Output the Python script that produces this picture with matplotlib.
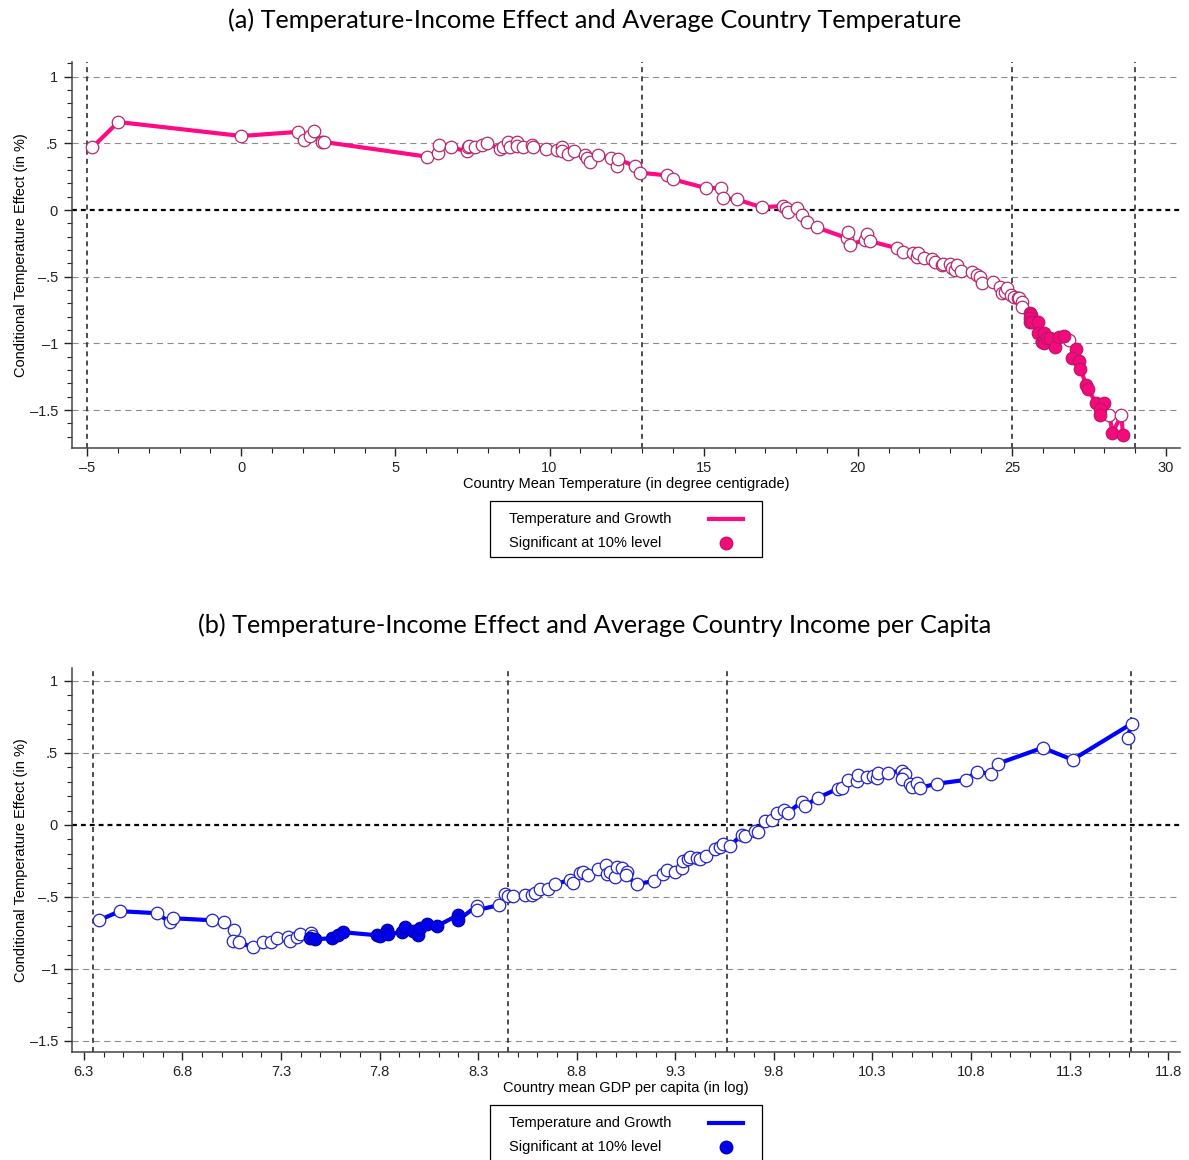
import matplotlib
matplotlib.use('Agg')
import matplotlib.pyplot as plt
from matplotlib.ticker import MultipleLocator
from matplotlib.lines import Line2D
from matplotlib.patches import Rectangle

plt.rcParams['font.family'] = ['Liberation Sans', 'DejaVu Sans']

# panel (a): effect vs country mean temperature
temp_x = [-4.83, -3.99, 0.00, 1.85, 2.04, 2.24, 2.37, 2.62, 2.69,
          6.03, 6.38, 6.42, 6.80, 7.33, 7.36, 7.40, 7.58, 7.80, 7.97,
          8.39, 8.50, 8.65, 8.72, 8.94, 8.96, 9.14, 9.43, 9.46, 9.88,
          10.24, 10.40, 10.42, 10.60, 10.78, 11.15, 11.21, 11.31, 11.57, 11.99,
          12.18, 12.22, 12.77, 12.93, 13.80, 14.00, 15.07, 15.55, 15.62, 16.07,
          16.88, 17.56, 17.66, 17.72, 18.02, 18.18, 18.34, 18.66, 19.64, 19.67, 19.73,
          20.22, 20.29, 20.38, 21.26, 21.45, 21.78, 21.91, 21.94, 22.16, 22.42, 22.49,
          22.72, 22.75, 22.98, 23.04, 23.14, 23.23, 23.36, 23.69, 23.85, 23.95, 24.04,
          24.37, 24.60, 24.69, 24.76, 24.85, 24.98, 25.08, 25.18, 25.24, 25.31, 25.34,
          25.57, 25.63, 25.60, 25.57, 25.66, 25.83, 25.83, 25.96, 25.96, 26.05, 26.05,
          26.12, 26.22, 26.38, 26.54, 26.70,
          26.86,
          27.09, 26.96, 27.19, 27.22, 27.41, 27.45, 27.74, 28.00, 27.84, 27.84,
          28.16, 28.26, 28.55, 28.60]
temp_eff = [0.47, 0.66, 0.555, 0.586, 0.526, 0.556, 0.594, 0.51, 0.51,
            0.40, 0.43, 0.49, 0.47, 0.44, 0.475, 0.48, 0.47, 0.49, 0.50,
            0.46, 0.47, 0.51, 0.47, 0.51, 0.48, 0.47, 0.49, 0.47, 0.46,
            0.45, 0.47, 0.44, 0.42, 0.44, 0.41, 0.39, 0.36, 0.41, 0.39,
            0.33, 0.38, 0.33, 0.28, 0.26, 0.23, 0.165, 0.165, 0.09, 0.08,
            0.02, 0.03, 0.015, -0.015, 0.015, -0.04, -0.09, -0.13, -0.21, -0.165, -0.26,
            -0.225, -0.18, -0.233, -0.286, -0.316, -0.32, -0.35, -0.32, -0.36, -0.37, -0.39,
            -0.41, -0.406, -0.406, -0.436, -0.45, -0.41, -0.46, -0.466, -0.49, -0.50, -0.55,
            -0.54, -0.58, -0.62, -0.617, -0.586, -0.64, -0.654, -0.66, -0.66, -0.69, -0.73,
            -0.774, -0.79, -0.81, -0.84, -0.84, -0.84, -0.925, -0.98, -0.99, -1.0, -0.925,
            -0.96, -0.96, -1.03, -0.955, -0.947,
            -0.977,
            -1.04, -1.11, -1.13, -1.19, -1.316, -1.34, -1.45, -1.45, -1.49, -1.54,
            -1.54, -1.67, -1.54, -1.69]
temp_sig = [0] * 93 + [1] * 16 + [0] + [1] * 10 + [0, 1, 0, 1]
temp_vlines = [-5, 13, 25, 29]

# panel (b): effect vs country mean log GDP per capita
gdp_x = [6.376, 6.483, 6.670, 6.736, 6.751, 6.949, 7.010, 7.061, 7.056, 7.086,
         7.157, 7.208, 7.248, 7.279, 7.334, 7.345, 7.380, 7.395, 7.451, 7.456,
         7.446, 7.471, 7.558, 7.588, 7.613, 7.786, 7.801, 7.837, 7.842, 7.913,
         7.928, 7.968, 7.994, 8.004, 8.039, 8.090, 8.197, 8.197,
         8.293, 8.293, 8.404, 8.435, 8.450, 8.475, 8.536, 8.572, 8.587, 8.612,
         8.653, 8.688, 8.764, 8.780, 8.815, 8.830, 8.856, 8.906, 8.947, 8.952,
         8.967, 8.993, 9.003, 9.028, 9.054, 9.048, 9.104, 9.190, 9.236, 9.256,
         9.297, 9.332, 9.337, 9.363, 9.373, 9.409, 9.424, 9.454, 9.500, 9.525,
         9.540, 9.576, 9.637, 9.652, 9.703, 9.718, 9.753, 9.789, 9.814, 9.850,
         9.870, 9.941, 9.956, 10.022, 10.124, 10.144, 10.174, 10.220, 10.225, 10.271,
         10.301, 10.321, 10.326, 10.377, 10.448, 10.453, 10.463, 10.448, 10.489, 10.499,
         10.524, 10.539, 10.626, 10.773, 10.828, 10.899, 10.935, 11.163, 11.315, 11.614,
         11.594]
gdp_eff = [-0.662, -0.599, -0.613, -0.675, -0.648, -0.662, -0.675, -0.731, -0.808, -0.815,
           -0.850, -0.815, -0.815, -0.787, -0.780, -0.808, -0.780, -0.759, -0.752, -0.773,
           -0.787, -0.794, -0.787, -0.766, -0.745, -0.766, -0.773, -0.731, -0.759, -0.745,
           -0.710, -0.738, -0.766, -0.717, -0.689, -0.703, -0.627, -0.662,
           -0.564, -0.592, -0.557, -0.480, -0.494, -0.494, -0.487, -0.487, -0.474, -0.446,
           -0.446, -0.411, -0.383, -0.404, -0.334, -0.327, -0.348, -0.306, -0.279, -0.341,
           -0.327, -0.362, -0.292, -0.299, -0.327, -0.348, -0.411, -0.390, -0.341, -0.313,
           -0.327, -0.299, -0.251, -0.237, -0.223, -0.230, -0.237, -0.216, -0.167, -0.153,
           -0.132, -0.146, -0.070, -0.077, -0.042, -0.049, 0.028, 0.035, 0.084, 0.104,
           0.084, 0.160, 0.132, 0.188, 0.251, 0.258, 0.313, 0.306, 0.348, 0.334,
           0.341, 0.327, 0.362, 0.362, 0.376, 0.341, 0.355, 0.320, 0.286, 0.265,
           0.292, 0.258, 0.286, 0.313, 0.369, 0.355, 0.425, 0.536, 0.453, 0.703,
           0.606]
gdp_sig = [0] * 20 + [1] * 18 + [0] * 83
gdp_vlines = [6.345, 8.45, 9.56, 11.61]

yticks = [1, 0.5, 0, -0.5, -1, -1.5]
ylabels = ['1', '.5', '0', '\u2013.5', '\u20131', '\u20131.5']
legend_labels = ['Temperature and Growth', 'Significant at 10% level']

W, H = 1189, 1160


def fmt_num(v):
    s = ('%g' % v)
    return s.replace('-', '\u2013')


def draw_panel(ax, xs, ys, sig, line_col, open_edge, fill_col, fill_edge,
               vlines, xticks, minor, xlim, ylim, xlabel):
    for y in yticks:
        if y == 0:
            ax.axhline(0, color='black', lw=1.6, ls=(0, (2.2, 1.8)), zorder=1)
        else:
            ax.axhline(y, color='#8c8c8c', lw=0.8, ls=(0, (5.5, 4)), zorder=1)
    for v in vlines:
        ax.axvline(v, color='#303030', lw=1.2, ls=(0, (3, 2.5)), zorder=1)

    ax.plot(xs, ys, color=line_col, lw=3.0, zorder=2, solid_joinstyle='round')
    ox = [x for x, s in zip(xs, sig) if s == 0]
    oy = [y for y, s in zip(ys, sig) if s == 0]
    fx = [x for x, s in zip(xs, sig) if s == 1]
    fy = [y for y, s in zip(ys, sig) if s == 1]
    ax.plot(ox, oy, 'o', ms=9, mfc='white', mec=open_edge, mew=0.9, ls='none', zorder=3)
    ax.plot(fx, fy, 'o', ms=9, mfc=fill_col, mec=fill_edge, mew=0.9, ls='none', zorder=4)

    ax.set_xlim(xlim)
    ax.set_ylim(ylim)
    ax.set_xticks(xticks)
    ax.set_xticklabels([fmt_num(t) for t in xticks])
    ax.xaxis.set_minor_locator(MultipleLocator(minor))
    ax.set_yticks(yticks)
    ax.set_yticklabels(ylabels)
    ax.yaxis.set_minor_locator(MultipleLocator(0.1))
    ax.tick_params(which='major', direction='out', length=6, width=1.0,
                   labelsize=10.5, colors='#222222')
    ax.tick_params(which='minor', direction='out', length=3.5, width=0.8, colors='#222222')
    ax.tick_params(axis='y', pad=4)
    ax.tick_params(axis='x', pad=3)
    for sp in ['top', 'right']:
        ax.spines[sp].set_visible(False)
    for sp in ['left', 'bottom']:
        ax.spines[sp].set_linewidth(1.1)
        ax.spines[sp].set_color('#444444')
    ax.set_xlabel(xlabel, fontsize=10.5, labelpad=2)
    ax.set_ylabel('Conditional Temperature Effect (in %)', fontsize=10.5, labelpad=1)


def add_legend(fig, top_px, line_col, fill_col, fill_edge):
    # box drawn by hand so labels sit left and keys sit right, as in the Stata legend
    x0, x1 = 490, 762
    y1 = top_px + 56
    fig.patches.append(Rectangle((x0 / W, 1 - y1 / H), (x1 - x0) / W, 56 / H,
                                 transform=fig.transFigure, facecolor='white',
                                 edgecolor='black', lw=0.9, zorder=5))
    rows = [top_px + 18, top_px + 42]
    for lab, yy in zip(legend_labels, rows):
        fig.text(509 / W, 1 - yy / H, lab, fontsize=10.5, ha='left', va='center', zorder=6)
    fig.lines.append(Line2D([709 / W, 743 / W], [1 - rows[0] / H] * 2, color=line_col,
                            lw=3.0, transform=fig.transFigure, zorder=6))
    fig.lines.append(Line2D([726 / W], [1 - rows[1] / H], marker='o', ms=9, ls='none',
                            mfc=fill_col, mec=fill_edge, transform=fig.transFigure, zorder=6))


def main():
    fig = plt.figure(figsize=(W / 100, H / 100), dpi=100)
    title_font = ['Lato', 'DejaVu Sans']

    ax1 = fig.add_axes([72 / W, 1 - 448 / H, 1108 / W, 386 / H])
    draw_panel(ax1, temp_x, temp_eff, temp_sig, '#ff0a84', '#b8286e', '#f50a7c', '#c0146a',
               temp_vlines, [-5, 0, 5, 10, 15, 20, 25, 30], 1, (-5.49, 30.45), (-1.785, 1.11),
               'Country Mean Temperature (in degree centigrade)')
    fig.text(595 / W, 1 - 20 / H,
             '(a) Temperature-Income Effect and Average Country Temperature',
             ha='center', va='center', fontsize=18.2, family=title_font)
    add_legend(fig, 501, '#ff0a84', '#f50a7c', '#c0146a')

    ax2 = fig.add_axes([72 / W, 1 - 1052 / H, 1108 / W, 384 / H])
    draw_panel(ax2, gdp_x, gdp_eff, gdp_sig, '#0000ff', '#2323c8', '#0000ee', '#0000b0',
               gdp_vlines, [6.3, 6.8, 7.3, 7.8, 8.3, 8.8, 9.3, 9.8, 10.3, 10.8, 11.3, 11.8],
               0.1, (6.24, 11.86), (-1.577, 1.09),
               'Country mean GDP per capita (in log)')
    fig.text(595 / W, 1 - 625 / H,
             '(b) Temperature-Income Effect and Average Country Income per Capita',
             ha='center', va='center', fontsize=18.2, family=title_font)
    add_legend(fig, 1105, '#0000ff', '#0000ee', '#0000b0')

    fig.savefig('out.png', dpi=100)


if __name__ == '__main__':
    main()
